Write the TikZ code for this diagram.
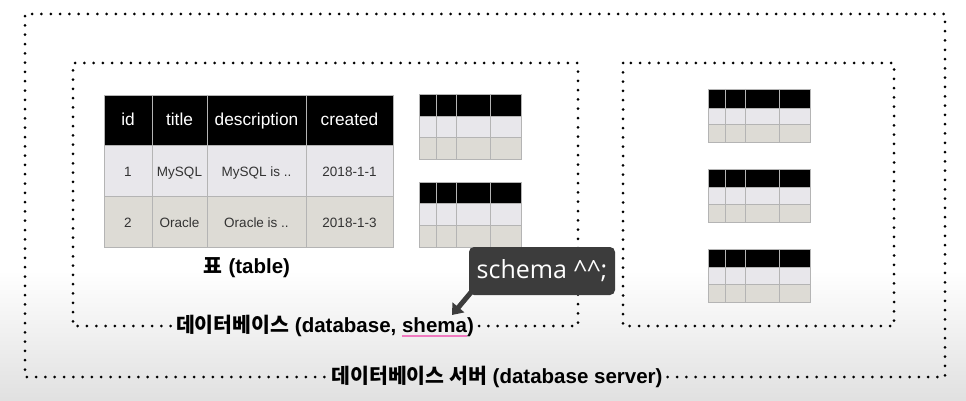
\documentclass[tikz,border=0pt]{standalone}
\usepackage{fontspec}
\setmainfont{Liberation Sans}
\newfontfamily\kr{Noto Sans CJK KR}
\newfontfamily\tipfont{Open Sans}
\usetikzlibrary{arrows.meta}

\definecolor{rowa}{HTML}{E8E7EB}
\definecolor{rowb}{HTML}{DDDBD5}
\definecolor{cellline}{HTML}{B4B4B4}
\definecolor{tipgray}{HTML}{3C3C3C}
\definecolor{markpink}{HTML}{F07AC0}

% pink marker under a word
\newcommand{\pinkmark}[1]{\setbox0\hbox{#1}\rlap{\raisebox{-5pt}{\textcolor{markpink}{\rule{\wd0}{1.8pt}}}}\box0}

\tikzset{
  dotline/.style={line width=3pt, line cap=round, dash pattern=on 0pt off 9.3pt},
  headcell/.style={font=\fontsize{17.3}{19}\selectfont, text=white, anchor=base},
  cell/.style={font=\fontsize{13.5}{15}\selectfont, text=black!80, anchor=base},
  caption/.style={font=\fontsize{20.5}{23}\selectfont\bfseries, inner xsep=5pt, inner ysep=0pt},
}

\begin{document}
\begin{tikzpicture}[x=1pt, y=-1pt]
  % background
  \useasboundingbox[fill=white] (0,0) rectangle (966,401);
  \shade[top color=white, bottom color=black!12] (0,270) rectangle (966,401);

  % Main table
  \fill[black] (104,95) rectangle (393,145);
  \fill[rowa] (104,145) rectangle (393,196);
  \fill[rowb] (104,196) rectangle (393,247);
  \foreach \x in {152,207,306}
    \draw[cellline] (\x,95) -- (\x,247);
  \draw[cellline] (104,145) -- (393,145) (104,196) -- (393,196);
  \draw[cellline] (104,95) rectangle (393,247);

  \foreach \n/\x/\t in {id/128/id, title/179.5/title, desc/256.5/description, created/349.5/created}
    \node[headcell] (h-\n) at (\x,126) {\t};
  \foreach \n/\x/\a/\b in {id/128/1/2, title/179.5/MySQL/Oracle, desc/256.5/{MySQL is ..}/{Oracle is ..}, created/349.5/2018-1-1/2018-1-3} {
    \node[cell] (r1-\n) at (\x,176) {\a};
    \node[cell] (r2-\n) at (\x,227) {\b};
  }

  % Small tables
  \foreach \tx/\ty/\ha/\hb/\hc in {419/94/22/21/22, 419/182/21/22/22, 708/89/19/16/18, 708/169/18/17/18, 708/249/18/17/18} {
    \fill[black] (\tx,\ty) rectangle ++(102,\ha);
    \fill[rowa] (\tx,{\ty+\ha}) rectangle ++(102,\hb);
    \fill[rowb] (\tx,{\ty+\ha+\hb}) rectangle ++(102,\hc);
    \foreach \dx in {17,37,71}
      \draw[cellline] ({\tx+\dx},\ty) -- ++(0,{\ha+\hb+\hc});
    \draw[cellline] (\tx,{\ty+\ha}) -- ++(102,0) (\tx,{\ty+\ha+\hb}) -- ++(102,0);
    \draw[cellline] (\tx,\ty) rectangle ++(102,{\ha+\hb+\hc});
  }

  % Labels
  \node[caption] (tablelabel) at (247,268) {{\kr 표} (table)};
  \node[caption] (dblabel) at (325,326) {{\kr 데이터베이스} (database, \pinkmark{shema})};
  \node[caption] (serverlabel) at (497,377) {{\kr 데이터베이스 서버} (database server)};

  % Dotted boxes
  \draw[dotline] (dblabel.east) -- (578,326) -- (578,63) -- (73,63) -- (73,326) -- (dblabel.west);
  \draw[dotline] (623,63) rectangle (894,326);
  \draw[dotline] (serverlabel.east) -- (945,377) -- (945,14) -- (25,14) -- (25,377) -- (serverlabel.west);

  % Callout
  \node[fill=tipgray, rounded corners=5pt, text=white, minimum width=146pt, minimum height=48pt,
        font=\tipfont\fontsize{25}{27}\selectfont] (tip) at (542,271) {schema \textasciicircum\textasciicircum;};
  \coordinate (tipto) at (452,315);
  \draw[tipgray, line width=5pt, -{Triangle[length=10pt,width=15pt]}] ([xshift=4pt,yshift=5pt]tip.south west) -- (tipto);
\end{tikzpicture}
\end{document}
